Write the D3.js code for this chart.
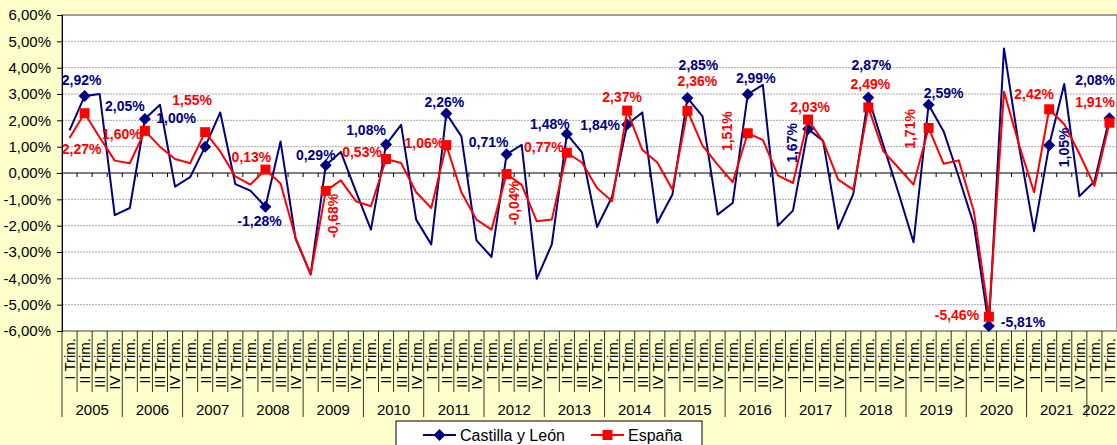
<!DOCTYPE html>
<html>
<head>
<meta charset="utf-8">
<script src="https://cdn.jsdelivr.net/npm/d3@7"></script>
<style>
  body { margin: 0; background: #ffffcc; }
  svg { display: block; font-family: "Liberation Sans", Arial, sans-serif; }
</style>
</head>
<body>
<svg id="chart" width="1117" height="445"></svg>
<script>
// quarterly variation (%), 2005 I Trim. .. 2022 II Trim.
const years = [2005, 2006, 2007, 2008, 2009, 2010, 2011, 2012, 2013,
               2014, 2015, 2016, 2017, 2018, 2019, 2020, 2021, 2022];
const quartersInYear = [4, 4, 4, 4, 4, 4, 4, 4, 4, 4, 4, 4, 4, 4, 4, 4, 4, 2];
const quarterNames = ['I Trim.', 'II Trim.', 'III Trim.', 'IV Trim.'];

const castillaLeon = [
   1.62,  2.92,  3.00, -1.60,
  -1.33,  2.05,  2.59, -0.52,
  -0.16,  1.00,  2.30, -0.42,
  -0.67, -1.28,  1.20, -2.50,
  -3.85,  0.29,  0.80, -0.70,
  -2.15,  1.08,  1.83, -1.77,
  -2.71,  2.26,  1.39, -2.56,
  -3.19,  0.71,  1.07, -4.02,
  -2.71,  1.48,  0.78, -2.05,
  -0.90,  1.84,  2.30, -1.89,
  -0.82,  2.85,  2.15, -1.58,
  -1.14,  2.99,  3.35, -2.00,
  -1.43,  1.67,  1.22, -2.12,
  -0.80,  2.87,  1.05, -0.75,
  -2.63,  2.59,  1.58, -0.15,
  -1.96, -5.81,  4.73,  1.00,
  -2.21,  1.05,  3.38, -0.88,
  -0.32,  2.08
];
const espana = [
   1.33,  2.27,  1.35,  0.47,
   0.37,  1.60,  1.00,  0.53,
   0.37,  1.55,  0.82, -0.13,
  -0.44,  0.13, -0.40, -2.46,
  -3.85, -0.68, -0.28, -1.07,
  -1.26,  0.53,  0.38, -0.73,
  -1.33,  1.06, -0.73, -1.77,
  -2.15, -0.04, -0.45, -1.83,
  -1.77,  0.77,  0.40, -0.57,
  -1.07,  2.37,  0.88,  0.40,
  -0.63,  2.36,  1.04,  0.32,
  -0.35,  1.51,  1.26, -0.09,
  -0.38,  2.03,  1.20, -0.25,
  -0.63,  2.49,  0.82,  0.20,
  -0.44,  1.71,  0.35,  0.48,
  -1.45, -5.46,  3.09,  1.07,
  -0.73,  2.42,  1.85,  0.74,
  -0.49,  1.91
];
const yTicks = [6, 5, 4, 3, 2, 1, 0, -1, -2, -3, -4, -5, -6];
const markedQuarter = 1; // markers + labels on II Trim.

// label placement per year: [dx, dy, rotated]
const clLabelPos = [[-3,-16,0],[-20,-13,0],[-29,-29,0],[-6,14,0],[-10,-10,0],[-20,-15,0],
  [-2,-12,0],[-18,-12,0],[-17,-10,0],[-27,0,0],[11,-33,0],[8,-16,0],[-16,14,1],[3,-32,0],
  [15,-12,0],[34,-4,0],[15,2,1],[-8,-38,0]];
const esLabelPos = [[-3,36,0],[-23,3,0],[-13,-32,0],[-14,-13,0],[7,25,1],[-24,-7,0],
  [-22,-2,0],[7,29,1],[-23,-6,0],[-5,-14,0],[10,-30,0],[-21,-2,1],[2,-13,0],[2,-23,0],
  [-19,1,1],[-32,-2,0],[-15,-15,0],[-6,-21,0]];

const pct = v => (v < 0 ? '-' : '') + Math.abs(v).toFixed(2).replace('.', ',') + '%';

const periods = [];
years.forEach((yr, yi) => {
  for (let q = 0; q < quartersInYear[yi]; q++) {
    periods.push({ year: yr, yi: yi, q: q, idx: periods.length });
  }
});

const W = 1117;
const plot = { left: 62, right: 1117, top: 15, bottom: 331 };
const svg = d3.select('#chart');

const x = d3.scaleBand().domain(periods.map(p => p.idx)).range([plot.left, plot.right]).padding(0);
const y = d3.scaleLinear().domain([-6, 6]).range([plot.bottom, plot.top]);
const cx = i => x(i) + x.bandwidth() / 2;

// plot area
svg.append('rect')
  .attr('x', plot.left).attr('y', plot.top)
  .attr('width', plot.right - plot.left).attr('height', plot.bottom - plot.top)
  .attr('fill', '#ffffff').attr('stroke', '#808080').attr('stroke-width', 1.5);

// gridlines
svg.append('g').selectAll('line')
  .data(yTicks.filter(t => t !== 0 && t !== 6 && t !== -6))
  .join('line')
  .attr('x1', plot.left).attr('x2', plot.right)
  .attr('y1', d => y(d)).attr('y2', d => y(d))
  .attr('stroke', '#a8a8a8').attr('stroke-dasharray', '2,1');

// y axis
const yAxis = svg.append('g')
  .attr('transform', `translate(${plot.left},0)`)
  .call(d3.axisLeft(y).tickValues(yTicks).tickFormat(pct).tickSize(5).tickPadding(6));
yAxis.select('.domain').attr('stroke', '#000');
yAxis.selectAll('.tick line').attr('stroke', '#000');
yAxis.selectAll('.tick text')
  .attr('font-size', 15).attr('fill', '#000')
  .attr('font-family', '"Liberation Sans", Arial, sans-serif');

// zero line with category ticks
svg.append('line')
  .attr('x1', plot.left).attr('x2', plot.right)
  .attr('y1', y(0)).attr('y2', y(0))
  .attr('stroke', '#000').attr('stroke-width', 1.2);
svg.append('g').selectAll('line')
  .data(periods.slice(1))
  .join('line')
  .attr('x1', d => x(d.idx)).attr('x2', d => x(d.idx))
  .attr('y1', y(0)).attr('y2', y(0) + 4)
  .attr('stroke', '#000');

// category axis below plot
const cat = svg.append('g');
cat.selectAll('line.q')
  .data(periods)
  .join('line')
  .attr('class', 'q')
  .attr('x1', d => x(d.idx)).attr('x2', d => x(d.idx))
  .attr('y1', plot.bottom).attr('y2', d => d.q === 0 ? 417 : 392)
  .attr('stroke', '#000').attr('stroke-width', 0.8);
cat.selectAll('text.q')
  .data(periods)
  .join('text')
  .attr('class', 'q')
  .attr('transform', d => `translate(${cx(d.idx)},338) rotate(-90)`)
  .attr('text-anchor', 'end')
  .attr('dy', '0.36em')
  .attr('font-size', 15)
  .text(d => quarterNames[d.q]);
const yearGroups = years.map((yr, yi) => {
  const ps = periods.filter(p => p.yi === yi);
  return { year: yr, x0: x(ps[0].idx), x1: x(ps[ps.length - 1].idx) + x.bandwidth() };
});
cat.selectAll('text.yr')
  .data(yearGroups)
  .join('text')
  .attr('class', 'yr')
  .attr('x', d => Math.min((d.x0 + d.x1) / 2, W - 18))
  .attr('y', 415)
  .attr('text-anchor', 'middle')
  .attr('font-size', 15)
  .text(d => d.year);

// series
const series = [
  { name: 'Castilla y León', values: castillaLeon, color: '#000080', shape: 'diamond', labels: clLabelPos },
  { name: 'España', values: espana, color: '#ff0000', shape: 'square', labels: esLabelPos }
];
const markerPath = shape => shape === 'diamond'
  ? 'M0,-6L6,0L0,6L-6,0Z'
  : 'M-5,-5H5V5H-5Z';
const line = d3.line().x(d => cx(d.idx)).y(d => y(d.v));

series.forEach(s => {
  const pts = periods.map(p => ({ idx: p.idx, yi: p.yi, q: p.q, v: s.values[p.idx] }));
  svg.append('path')
    .datum(pts)
    .attr('fill', 'none')
    .attr('stroke', s.color)
    .attr('stroke-width', 2)
    .attr('stroke-linejoin', 'round')
    .attr('d', line);
  svg.append('g').selectAll('path')
    .data(pts.filter(p => p.q === markedQuarter))
    .join('path')
    .attr('transform', d => `translate(${cx(d.idx)},${y(d.v)})`)
    .attr('d', markerPath(s.shape))
    .attr('fill', s.color);
  s.pts = pts;
});

series.forEach(s => {
  svg.append('g').selectAll('text')
    .data(s.pts.filter(p => p.q === markedQuarter))
    .join('text')
    .attr('transform', d => {
      const lp = s.labels[d.yi];
      const tx = lp[2] ? cx(d.idx) + lp[0] : Math.min(cx(d.idx) + lp[0], W - 22);
      const t = `translate(${tx},${y(d.v) + lp[1]})`;
      return lp[2] ? t + ' rotate(-90)' : t;
    })
    .attr('text-anchor', 'middle')
    .attr('dy', '0.36em')
    .attr('font-size', 14)
    .attr('font-weight', 'bold')
    .attr('fill', s.color)
    .text(d => pct(d.v));
});

// legend
const lg = svg.append('g').attr('transform', 'translate(396,421)');
lg.append('rect')
  .attr('width', 306).attr('height', 30)
  .attr('fill', '#ffffff').attr('stroke', '#000').attr('stroke-width', 1);
const legendItems = [{ s: series[0], x: 27, tx: 64 }, { s: series[1], x: 195, tx: 232 }];
legendItems.forEach(it => {
  lg.append('line')
    .attr('x1', it.x).attr('x2', it.x + 33)
    .attr('y1', 14).attr('y2', 14)
    .attr('stroke', it.s.color).attr('stroke-width', 2);
  lg.append('path')
    .attr('transform', `translate(${it.x + 16.5},14)`)
    .attr('d', markerPath(it.s.shape))
    .attr('fill', it.s.color);
  lg.append('text')
    .attr('x', it.tx).attr('y', 14).attr('dy', '0.36em')
    .attr('font-size', 16)
    .text(it.s.name);
});
</script>
</body>
</html>
